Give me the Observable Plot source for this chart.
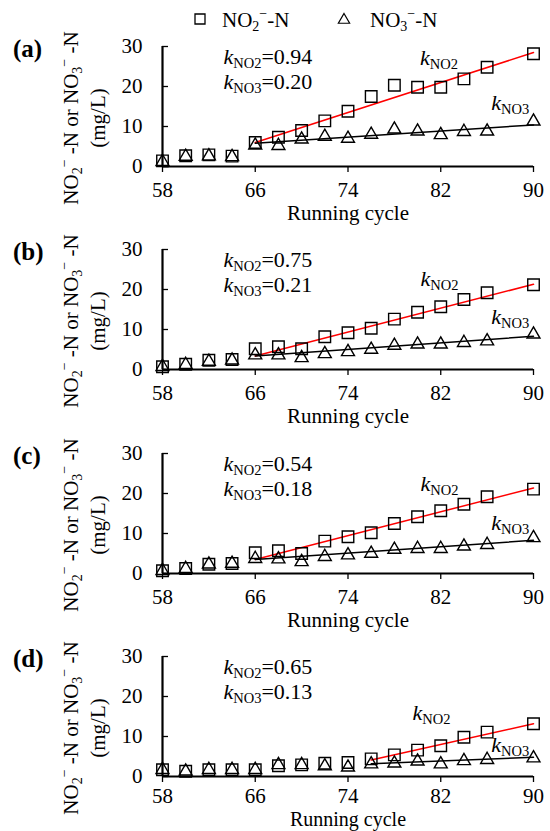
<!DOCTYPE html>
<html><head><meta charset="utf-8">
<script src="https://cdn.jsdelivr.net/npm/d3@7"></script>
<script src="https://cdn.jsdelivr.net/npm/@observablehq/plot@0.6"></script>
<style>
body{margin:0;background:#fff;}
#chart{width:550px;}
#chart svg{display:block;}
#chart svg text{font-family:"Liberation Serif","DejaVu Serif",serif;}
</style></head><body><div id="chart"></div>
<script>
// ---- data ----
const cycles = [58,60,62,64,66,68,70,72,74,76,78,80,82,84,86,90];
const xTicks = [58,66,74,82,90];
const yTicks = [0,10,20,30];
const panelLetters = ["(a)","(b)","(c)","(d)"];

const no2A = [1.4,2.7,2.9,2.6,6.0,7.3,9.0,11.4,13.8,17.5,20.3,19.8,19.8,21.9,24.8,28.2];
const no3A = [1.2,2.5,2.6,2.4,5.3,5.2,6.8,7.5,7.0,8.0,9.3,8.8,7.9,8.7,8.8,11.3];
const no2B = [0.7,1.3,2.3,2.5,5.2,5.7,5.2,8.2,9.2,10.3,12.6,14.3,15.7,17.5,19.2,21.2];
const no3B = [0.7,1.2,2.0,2.3,3.6,3.6,2.9,3.9,4.4,5.0,6.0,6.3,6.3,6.7,7.1,8.8];
const no2C = [0.7,1.25,2.3,2.5,5.2,5.7,5.0,8.1,9.2,10.2,12.5,14.2,15.7,17.3,19.2,21.1];
const no3C = [0.7,1.2,2.3,2.5,3.7,3.6,2.9,4.2,4.6,5.0,6.0,6.2,6.2,6.8,7.2,8.9];
const no2D = [1.7,1.3,1.7,1.7,1.7,2.7,2.9,3.3,3.5,4.4,5.4,6.6,7.7,9.8,11.1,13.2];
const no3D = [1.7,1.3,1.7,1.7,1.7,2.9,2.9,2.6,2.3,3.1,3.3,3.8,3.1,3.9,4.2,4.6];

const kNO2 = ["0.94","0.75","0.54","0.65"];
const kNO3 = ["0.20","0.21","0.18","0.13"];
// fitted lines: start cycle, end cycle, [start value, end value]
const fitStart = [66,66,66,76];
const fitEnd = [90,90,90,90];
const fitNO2 = [[6.0,28.5],[3.4,21.3],[3.5,21.4],[4.1,13.2]];
const fitNO3 = [[5.8,10.4],[3.4,8.3],[3.5,8.3],[3.2,4.8]];

const no2 = [no2A,no2B,no2C,no2D];
const no3 = [no3A,no3B,no3C,no3D];

// ---- layout (annotation placement, in data coordinates) ----
const annotTopLeft = {cycle: 63.3, v1: 25.4, v2: 19.2};
const labelNO2Pos = [[80.25,25.2],[80.3,20.7],[80.3,20.5],[79.6,14.0]];
const labelNO3Pos = [[86.4,14.0],[86.4,11.2],[86.4,10.8],[86.4,6.0]];

const FONT = "Liberation Serif, DejaVu Serif, serif";
const heights = [199,204,203,191];
const tops = [12,16,16,16];
const xLabelOffset = [47,47,47,43];
const xLabelSize = [21,21,21,20];
const xTickPad = [10,10,10,6];
const W = 550, ML = 162, MR = 17, PH = 120;

const root = d3.select("#chart");

// ---- legend ----
(function legend(){
  const svg = root.append("svg").attr("width", W).attr("height", 34)
    .attr("font-family", FONT).attr("font-size", 21).attr("text-anchor", "start");
  svg.append("path").attr("transform","translate(200,19)")
    .attr("d", d3.symbol(d3.symbolSquare, 100)()).attr("fill","none").attr("stroke","#000").attr("stroke-width",1.3);
  const t1 = svg.append("text").attr("x",222).attr("y",27);
  t1.append("tspan").text("NO");
  t1.append("tspan").attr("font-size",14).attr("dy",4).text("2");
  t1.append("tspan").attr("font-size",14).attr("dy",-13).text("\u2212");
  t1.append("tspan").attr("dy",9).text("-N");
  svg.append("path").attr("transform","translate(344,20)")
    .attr("d", d3.symbol(d3.symbolTriangle, 55)()).attr("fill","none").attr("stroke","#000").attr("stroke-width",1.2);
  const t2 = svg.append("text").attr("x",370).attr("y",27);
  t2.append("tspan").text("NO");
  t2.append("tspan").attr("font-size",14).attr("dy",4).text("3");
  t2.append("tspan").attr("font-size",14).attr("dy",-13).text("\u2212");
  t2.append("tspan").attr("dy",9).text("-N");
})();

function kText(g, px, py, sub, rest) {
  const t = g.append("text").attr("x", px).attr("y", py).attr("font-size", 22);
  t.append("tspan").attr("font-style","italic").text("k");
  t.append("tspan").attr("font-size", 14.5).attr("dy", 4).text(sub);
  if (rest) t.append("tspan").attr("dy", -4).text(rest);
}

function panel(i) {
  const H = heights[i], MT = tops[i];
  const data = cycles.map((c, j) => ({cycle: c, no2: no2[i][j], no3: no3[i][j]}));
  const fit2 = [{cycle: fitStart[i], v: fitNO2[i][0]}, {cycle: fitEnd[i], v: fitNO2[i][1]}];
  const fit3 = [{cycle: fitStart[i], v: fitNO3[i][0]}, {cycle: fitEnd[i], v: fitNO3[i][1]}];
  const frameW = W - ML - MR;

  const annotations = (index, scales) => {
    const {x, y} = scales;
    const g = d3.create("svg:g").attr("font-family", FONT).attr("fill", "#000").attr("text-anchor", "start");
    kText(g, x(annotTopLeft.cycle), y(annotTopLeft.v1), "NO2", "=" + kNO2[i]);
    kText(g, x(annotTopLeft.cycle), y(annotTopLeft.v2), "NO3", "=" + kNO3[i]);
    kText(g, x(labelNO2Pos[i][0]), y(labelNO2Pos[i][1]), "NO2", null);
    kText(g, x(labelNO3Pos[i][0]), y(labelNO3Pos[i][1]), "NO3", null);
    const y0 = y(0);
    // panel letter
    g.append("text").attr("x", 13).attr("y", y0 - 109).attr("font-size", 25)
      .attr("font-weight", "bold").text(panelLetters[i]);
    // y axis title (two rotated lines)
    const cy = y0 - 48;
    const l1 = g.append("text").attr("transform", `translate(71,${cy}) rotate(-90)`)
      .attr("text-anchor","middle").attr("dy","0.35em").attr("font-size", 21);
    l1.append("tspan").text("NO");
    l1.append("tspan").attr("font-size",14).attr("dy",4).text("2");
    l1.append("tspan").attr("font-size",14).attr("dy",-13).text("\u2212");
    l1.append("tspan").attr("dy",9).text(" -N or NO");
    l1.append("tspan").attr("font-size",14).attr("dy",4).text("3");
    l1.append("tspan").attr("font-size",14).attr("dy",-13).text("\u2212");
    l1.append("tspan").attr("dy",9).text(" -N");
    g.append("text").attr("transform", `translate(98,${cy}) rotate(-90)`)
      .attr("text-anchor","middle").attr("dy","0.35em").attr("font-size", 21).text("(mg/L)");
    return g.node();
  };

  return Plot.plot({
    width: W, height: H,
    marginLeft: ML, marginRight: MR, marginTop: MT, marginBottom: H - MT - PH,
    style: {fontFamily: FONT, fontSize: "21px", color: "#000", background: "#fff", overflow: "visible"},
    x: {domain: [58, 90]},
    y: {domain: [0, 30]},
    marks: [
      Plot.line(fit2, {x: "cycle", y: "v", stroke: "#ff0000", strokeWidth: 1.5}),
      Plot.line(fit3, {x: "cycle", y: "v", stroke: "#000", strokeWidth: 1.5}),
      Plot.dot(data, {x: "cycle", y: "no2", symbol: "square", r: 6.5, stroke: "#000", strokeWidth: 1.4, fill: "none"}),
      Plot.dot(data, {x: "cycle", y: "no3", symbol: "triangle", r: 4.8, stroke: "#000", strokeWidth: 1.4, fill: "none"}),
      Plot.ruleX([58], {strokeWidth: 2.2}),
      Plot.ruleY([0], {strokeWidth: 2.2}),
      Plot.tickY(yTicks, {y: d => d, insetRight: frameW - 6, strokeWidth: 1.3}),
      Plot.axisX({ticks: xTicks, tickSize: 6, tickPadding: xTickPad[i], label: null, strokeWidth: 1.3, fontSize: 21}),
      Plot.axisY({ticks: yTicks, tickSize: 0, tickPadding: 20, label: null, fontSize: 21}),
      Plot.text(["Running cycle"], {text: d => d, frameAnchor: "bottom", dy: xLabelOffset[i], lineAnchor: "middle", fontSize: xLabelSize[i]}),
      annotations
    ]
  });
}

for (let i = 0; i < 4; i++) root.node().appendChild(panel(i));
</script></body></html>
